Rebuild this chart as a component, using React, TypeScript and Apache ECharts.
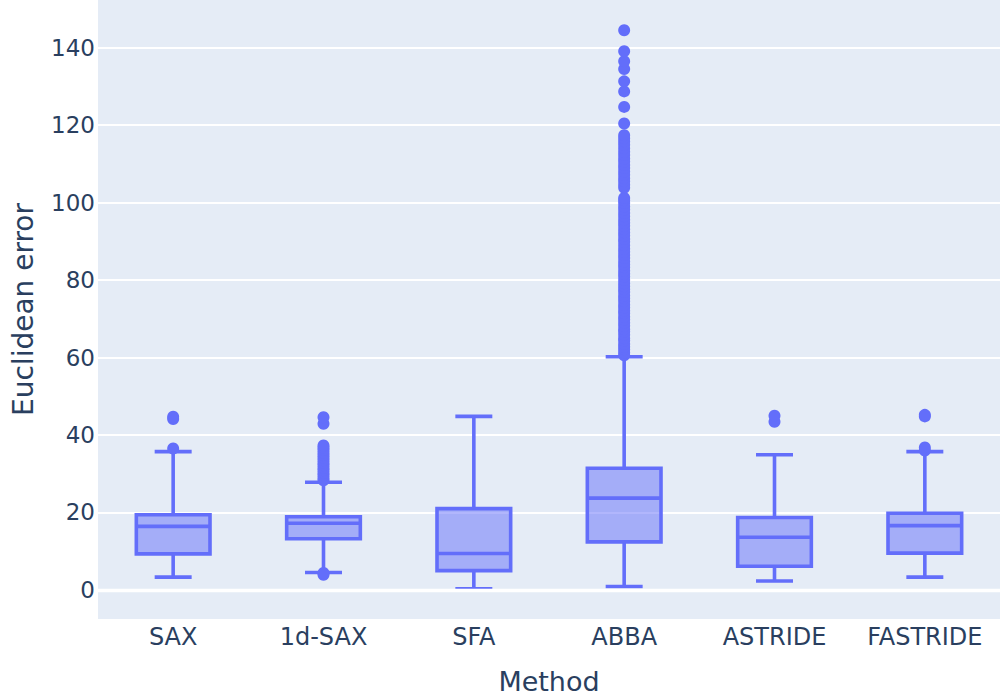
import React, { useEffect, useRef } from "react";
import * as echarts from "echarts";

const methods = ["SAX", "1d-SAX", "SFA", "ABBA", "ASTRIDE", "FASTRIDE"];
const lowerFence = [3.3, 4.5, 0.3, 0.9, 2.3, 3.3];
const q1 = [9.3, 13.2, 5.0, 12.4, 6.1, 9.5];
const median = [16.4, 17.2, 9.4, 23.7, 13.6, 16.6];
const q3 = [19.4, 18.9, 21.0, 31.4, 18.7, 19.8];
const upperFence = [35.7, 27.8, 44.8, 60.2, 34.9, 35.7];

const outliersSAX = [36.5, 44.1, 44.7];
const outliers1dSAX = [
  3.9, 4.4, 28.3, 28.9, 29.6, 30.2, 30.9, 31.5, 32.2, 32.8, 33.5, 34.1, 34.8,
  35.4, 36.1, 36.7, 37.3, 42.9, 44.6,
];
const outliersSFA: number[] = [];
const outliersABBA = [
  60.6, 61.3, 62.1, 62.8, 63.5, 64.4, 65.0, 65.9, 66.7, 67.3, 68.2, 69.0, 69.8,
  70.5, 71.4, 72.1, 72.9, 73.6, 74.5, 75.3, 76.0, 76.9, 77.6, 78.4, 79.2, 80.0,
  80.9, 81.6, 82.4, 83.3, 84.0, 84.8, 85.7, 86.5, 87.3, 88.1, 89.0, 89.9, 90.6,
  91.5, 92.3, 93.1, 94.0, 94.8, 95.6, 96.5, 97.3, 98.2, 99.0, 99.9, 100.6,
  101.2, 103.8, 104.6, 105.5, 106.3, 107.2, 108.0, 108.9, 109.7, 110.6, 111.4,
  112.3, 113.1, 114.0, 114.9, 115.8, 116.6, 117.4, 120.4, 124.7, 128.7, 131.3,
  134.5, 136.5, 139.1, 144.5,
];
const outliersASTRIDE = [43.4, 45.0];
const outliersFASTRIDE = [36.0, 36.8, 44.8, 45.2];

const allOutliers = [
  outliersSAX,
  outliers1dSAX,
  outliersSFA,
  outliersABBA,
  outliersASTRIDE,
  outliersFASTRIDE,
];

const LINE = "#636efa";
const FILL = "rgba(99,110,250,0.5)";
const TEXT = "#2a3f5f";
const FONT = "DejaVu Sans";

export default function App() {
  const ref = useRef<HTMLDivElement>(null);

  useEffect(() => {
    if (!ref.current) return;
    const chart = echarts.init(ref.current, undefined, { renderer: "svg" });

    const boxData = methods.map((_, i) => [
      i,
      lowerFence[i],
      q1[i],
      median[i],
      q3[i],
      upperFence[i],
    ]);
    const outlierData: number[][] = [];
    allOutliers.forEach((arr, i) => arr.forEach((v) => outlierData.push([i, v])));

    const option = {
      animation: false,
      backgroundColor: "#ffffff",
      grid: {
        left: 98,
        right: 0,
        top: 0,
        bottom: 81,
        show: true,
        backgroundColor: "#E5ECF6",
        borderWidth: 0,
      },
      xAxis: {
        type: "category",
        data: methods,
        axisLine: { show: false },
        axisTick: { show: false },
        splitLine: { show: false },
        axisLabel: { fontSize: 24, color: TEXT, fontFamily: FONT, margin: 6 },
        name: "Method",
        nameLocation: "middle",
        nameGap: 49,
        nameTextStyle: { fontSize: 27, color: TEXT, fontFamily: FONT },
      },
      yAxis: {
        type: "value",
        min: -7.5,
        max: 152.3,
        splitNumber: 8,
        axisLine: { show: false },
        axisTick: { show: false },
        splitLine: {
          show: true,
          showMinLine: false,
          showMaxLine: false,
          lineStyle: { color: "#ffffff", width: 2 },
        },
        axisLabel: {
          fontSize: 23,
          color: TEXT,
          fontFamily: FONT,
          margin: 3,
          showMinLabel: false,
          showMaxLabel: false,
        },
        name: "Euclidean error",
        nameLocation: "middle",
        nameGap: 61,
        nameTextStyle: { fontSize: 28, color: TEXT, fontFamily: FONT },
      },
      series: [
        {
          type: "custom",
          data: boxData,
          encode: { x: 0, y: [1, 2, 3, 4, 5] },
          markLine: {
            silent: true,
            symbol: "none",
            label: { show: false },
            lineStyle: { color: "#ffffff", width: 3.4, type: "solid" },
            data: [{ yAxis: 0 }],
          },
          renderItem: (params: any, api: any) => {
            const i = api.value(0);
            const band = api.size([1, 0])[0];
            const hw = band * 0.245;
            const cw = band * 0.123;
            const pLow = api.coord([i, api.value(1)]);
            const cx = pLow[0];
            const yLow = pLow[1];
            const yQ1 = api.coord([i, api.value(2)])[1];
            const yMed = api.coord([i, api.value(3)])[1];
            const yQ3 = api.coord([i, api.value(4)])[1];
            const yHigh = api.coord([i, api.value(5)])[1];
            const ls = { stroke: LINE, lineWidth: 3.6, fill: "none" };
            return {
              type: "group",
              children: [
                { type: "line", shape: { x1: cx, y1: yQ3, x2: cx, y2: yHigh }, style: ls },
                { type: "line", shape: { x1: cx, y1: yQ1, x2: cx, y2: yLow }, style: ls },
                { type: "line", shape: { x1: cx - cw, y1: yHigh, x2: cx + cw, y2: yHigh }, style: ls },
                { type: "line", shape: { x1: cx - cw, y1: yLow, x2: cx + cw, y2: yLow }, style: ls },
                {
                  type: "rect",
                  shape: { x: cx - hw, y: yQ3, width: hw * 2, height: yQ1 - yQ3 },
                  style: { fill: FILL, stroke: LINE, lineWidth: 3.6 },
                },
                { type: "line", shape: { x1: cx - hw, y1: yMed, x2: cx + hw, y2: yMed }, style: ls },
              ],
            };
          },
        },
        {
          type: "scatter",
          data: outlierData,
          symbol: "circle",
          symbolSize: 12,
          itemStyle: { color: LINE, opacity: 1 },
        },
      ],
    };

    chart.setOption(option as any);
    return () => chart.dispose();
  }, []);

  return (
    <div
      ref={ref}
      style={{ position: "fixed", left: 0, top: 0, width: 1000, height: 700 }}
    />
  );
}
